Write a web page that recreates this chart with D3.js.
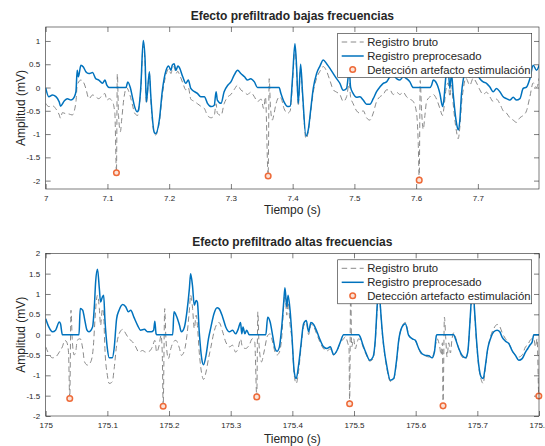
<!DOCTYPE html>
<html>
<head>
<meta charset="utf-8">
<script src="https://cdn.jsdelivr.net/npm/d3@7/dist/d3.min.js"></script>
<style>
  body { margin: 0; background: #fff; }
  svg { display: block; }
  text { font-family: "Liberation Sans", Arial, Helvetica, sans-serif; fill: #262626; }
</style>
</head>
<body>
<svg id="fig" width="545" height="446"></svg>
<script>
// ---- Low-frequency prefilter window (7.0 - 7.8 s) : [time s, amplitude mV]
const lowRaw = [
  [7.000,-0.34],[7.005,-0.41],[7.011,-0.39],[7.016,-0.45],[7.022,-0.59],[7.024,-0.66],[7.027,-0.54],
  [7.032,-0.56],[7.038,-0.57],[7.043,-0.59],[7.049,-0.31],[7.051,0.05],[7.057,0.16],[7.061,0.12],
  [7.065,-0.02],[7.070,-0.24],[7.076,-0.16],[7.081,-0.20],[7.086,-0.24],[7.092,-0.16],[7.096,-0.13],
  [7.099,-0.27],[7.103,-0.24],[7.108,-0.30],[7.112,-0.55],[7.1146,-1.83],[7.116,0.29],[7.118,-0.60],
  [7.121,-0.95],[7.123,-0.70],[7.127,-0.20],[7.131,0.00],[7.135,-0.10],[7.141,-0.40],[7.144,-0.55],
  [7.149,-0.60],[7.150,-0.55],[7.154,-0.05],[7.158,0.90],[7.161,0.50],[7.163,-0.35],[7.168,0.30],
  [7.170,-0.20],[7.176,-1.00],[7.178,-1.02],[7.184,-0.75],[7.189,-0.15],[7.195,0.28],[7.199,0.40],
  [7.203,0.30],[7.205,0.40],[7.208,0.45],[7.211,0.30],[7.214,0.35],[7.216,0.30],[7.222,0.10],
  [7.227,-0.05],[7.231,0.00],[7.235,-0.25],[7.241,-0.30],[7.246,-0.35],[7.251,-0.40],[7.257,-0.45],
  [7.262,-0.60],[7.268,-0.65],[7.273,-0.60],[7.276,-0.35],[7.278,-0.55],[7.284,-0.60],[7.289,-0.35],
  [7.295,-0.20],[7.300,-0.15],[7.305,-0.05],[7.311,0.05],[7.316,-0.05],[7.322,-0.10],[7.327,-0.15],
  [7.332,-0.10],[7.338,-0.20],[7.343,-0.30],[7.349,-0.25],[7.353,-0.45],[7.356,-0.20],[7.3603,-1.90],
  [7.362,0.19],[7.364,-0.40],[7.367,-0.70],[7.370,-0.55],[7.373,-0.35],[7.379,-0.20],[7.382,-0.25],
  [7.386,-0.45],[7.392,-0.55],[7.396,-0.50],[7.400,0.15],[7.4037,0.85],[7.4064,0.35],[7.4091,-0.40],
  [7.4129,0.40],[7.4161,-0.20],[7.4215,-1.10],[7.4253,-0.95],[7.4291,-0.55],[7.4334,-0.10],
  [7.4388,0.20],[7.4442,0.35],[7.4496,0.45],[7.4550,0.35],[7.4604,0.15],[7.4658,-0.05],[7.4712,-0.10],
  [7.4765,-0.15],[7.4819,-0.30],[7.4873,-0.20],[7.4917,0.10],[7.4938,-0.20],[7.4981,-0.35],
  [7.5035,-0.50],[7.5089,-0.55],[7.5143,-0.50],[7.5197,-0.65],[7.5251,-0.70],[7.5305,-0.55],
  [7.5359,-0.30],[7.5413,-0.20],[7.5467,-0.15],[7.5521,-0.05],[7.5575,-0.05],[7.5629,-0.15],
  [7.5683,-0.10],[7.5737,-0.15],[7.5791,-0.10],[7.5845,-0.20],[7.5899,-0.25],[7.5953,-0.30],
  [7.6007,-0.55],[7.6034,-1.20],[7.6050,-1.99],[7.6066,0.15],[7.6088,-0.50],[7.6115,-0.90],
  [7.6142,-0.60],[7.6169,-0.30],[7.6223,-0.20],[7.6277,-0.15],[7.6331,-0.25],[7.6385,-0.45],
  [7.6428,-0.60],[7.6449,-0.45],[7.6482,-0.05],[7.6519,0.10],[7.6546,-0.20],[7.6573,0.05],
  [7.6600,-0.35],[7.6654,-0.95],[7.6681,-1.10],[7.6708,-0.85],[7.6735,-0.35],[7.6762,-0.05],
  [7.6805,0.20],[7.6870,0.05],[7.6924,0.20],[7.6978,0.10],[7.7032,-0.05],[7.7086,-0.15],
  [7.7140,-0.10],[7.7194,-0.20],[7.7248,-0.30],[7.7302,-0.25],[7.7356,-0.35],[7.7410,-0.50],
  [7.7464,-0.55],[7.7518,-0.65],[7.7572,-0.70],[7.7626,-0.75],[7.7680,-0.65],[7.7734,-0.60],
  [7.7788,-0.50],[7.7842,-0.20],[7.7896,0.10],[7.7950,0.00],[7.7993,0.20]
];
const lowProc = [
  [7.000,-0.01],[7.005,-0.20],[7.011,-0.16],[7.016,-0.19],[7.022,-0.31],[7.024,-0.40],[7.030,-0.29],
  [7.035,-0.24],[7.041,-0.27],[7.046,-0.21],[7.049,-0.09],[7.051,0.37],[7.053,0.23],[7.057,0.48],
  [7.061,0.44],[7.065,0.34],[7.070,0.30],[7.076,0.32],[7.081,0.19],[7.086,0.16],[7.092,0.09],
  [7.096,0.16],[7.099,0.05],[7.103,0.00],[7.130,0.00],[7.133,0.12],[7.137,0.00],[7.141,-0.24],
  [7.144,-0.41],[7.148,-0.52],[7.150,-0.49],[7.154,0.00],[7.158,1.01],[7.161,0.59],[7.163,-0.31],
  [7.168,0.34],[7.170,-0.13],[7.176,-0.97],[7.178,-0.99],[7.184,-0.70],[7.189,-0.06],[7.195,0.37],
  [7.199,0.46],[7.203,0.37],[7.205,0.48],[7.208,0.51],[7.211,0.37],[7.214,0.46],[7.216,0.44],
  [7.222,0.23],[7.227,0.09],[7.231,0.16],[7.235,-0.02],[7.241,-0.09],[7.246,-0.13],[7.251,-0.20],
  [7.257,-0.20],[7.262,-0.34],[7.268,-0.41],[7.273,-0.38],[7.276,-0.09],[7.278,-0.27],[7.284,-0.34],
  [7.289,-0.09],[7.295,0.05],[7.300,0.12],[7.305,0.26],[7.311,0.37],[7.316,0.30],[7.322,0.23],
  [7.327,0.16],[7.332,0.19],[7.338,0.12],[7.343,0.00],[7.378,0.00],[7.381,-0.13],[7.386,-0.31],
  [7.392,-0.41],[7.396,-0.40],[7.3999,0.23],[7.4037,0.94],[7.4064,0.44],[7.4091,-0.34],[7.4129,0.50],
  [7.4161,-0.13],[7.4215,-1.04],[7.4253,-0.91],[7.4291,-0.49],[7.4334,-0.02],[7.4388,0.30],
  [7.4442,0.46],[7.4496,0.59],[7.4550,0.51],[7.4604,0.41],[7.4658,0.30],[7.4712,0.19],[7.4765,0.09],
  [7.4819,-0.06],[7.4873,-0.02],[7.4917,0.37],[7.4938,0.01],[7.4981,-0.13],[7.5035,-0.21],
  [7.5089,-0.20],[7.5143,-0.27],[7.5197,-0.36],[7.5251,-0.36],[7.5305,-0.24],[7.5359,-0.09],
  [7.5413,0.01],[7.5467,0.09],[7.5521,0.12],[7.5575,0.23],[7.5629,0.26],[7.5683,0.19],[7.5737,0.16],
  [7.5791,0.23],[7.5845,0.19],[7.5899,0.12],[7.5942,0.01],[7.5953,0.00],[7.6223,0.00],[7.6250,0.05],
  [7.6277,0.16],[7.6331,0.09],[7.6385,-0.13],[7.6428,-0.41],[7.6449,-0.27],[7.6482,0.23],
  [7.6519,0.37],[7.6546,-0.02],[7.6573,0.30],[7.6600,-0.13],[7.6654,-0.77],[7.6681,-0.91],
  [7.6708,-0.70],[7.6735,-0.13],[7.6762,0.16],[7.6805,0.37],[7.6870,0.23],[7.6924,0.37],
  [7.6978,0.30],[7.7032,0.19],[7.7086,0.12],[7.7140,0.09],[7.7194,0.01],[7.7248,-0.09],
  [7.7302,-0.02],[7.7356,-0.09],[7.7410,-0.20],[7.7464,-0.24],[7.7518,-0.27],[7.7572,-0.21],
  [7.7626,-0.27],[7.7680,-0.24],[7.7734,-0.02],[7.7788,0.01],[7.7842,0.19],[7.7896,0.48],
  [7.7950,0.37],[7.7993,0.48]
];
const lowMarks = [[7.1146,-1.83],[7.3603,-1.90],[7.6050,-1.99]];

// ---- High-frequency prefilter window (175.0 - 175.8 s)
const highRaw = [
  [175.000,-0.30],[175.005,-0.47],[175.011,-0.57],[175.016,-0.55],[175.022,-0.43],[175.027,-0.30],
  [175.031,-0.14],[175.034,-0.18],[175.037,-0.43],[175.039,-1.57],[175.041,0.60],[175.043,-0.10],
  [175.046,-0.50],[175.049,-0.39],[175.051,-0.14],[175.056,-0.10],[175.060,-0.34],[175.063,-0.67],
  [175.068,-0.75],[175.073,-0.67],[175.077,-0.34],[175.080,0.39],[175.082,0.80],[175.084,0.97],
  [175.087,0.64],[175.089,0.23],[175.092,0.64],[175.094,0.48],[175.096,-0.34],[175.100,-1.00],
  [175.103,-1.20],[175.108,-1.16],[175.111,-0.84],[175.115,-0.26],[175.119,0.02],[175.125,0.13],
  [175.130,0.02],[175.135,-0.10],[175.141,-0.18],[175.146,-0.30],[175.151,-0.43],[175.157,-0.39],
  [175.162,-0.43],[175.168,-0.41],[175.173,-0.30],[175.177,-0.14],[175.180,-0.43],[175.184,-0.26],
  [175.187,-0.02],[175.189,-0.43],[175.1905,-1.76],[175.193,0.64],[175.195,-0.10],[175.199,-0.59],
  [175.203,-0.34],[175.207,-0.18],[175.211,-0.14],[175.217,-0.34],[175.220,-0.51],[175.225,-0.39],
  [175.229,-0.02],[175.233,0.60],[175.235,0.97],[175.238,0.68],[175.241,0.15],[175.244,0.48],
  [175.246,0.23],[175.249,-0.43],[175.253,-0.96],[175.256,-1.10],[175.260,-0.92],[175.264,-0.59],
  [175.268,-0.30],[175.273,0.07],[175.278,0.27],[175.281,0.30],[175.287,0.07],[175.292,-0.18],
  [175.298,-0.30],[175.303,-0.26],[175.308,-0.43],[175.312,-0.34],[175.316,-0.11],[175.319,-0.30],
  [175.324,-0.34],[175.330,-0.26],[175.335,-0.10],[175.339,-0.18],[175.3423,-1.53],[175.344,0.56],
  [175.346,-0.26],[175.350,-0.67],[175.354,-0.43],[175.360,-0.02],[175.364,0.02],[175.368,-0.18],
  [175.372,-0.43],[175.375,-0.50],[175.379,-0.43],[175.383,-0.02],[175.386,0.72],[175.388,1.00],
  [175.391,0.48],[175.393,0.80],[175.3966,0.20],[175.3993,-0.10],[175.4031,-1.00],[175.4063,-1.20],
  [175.4101,-0.90],[175.4139,-0.35],[175.4182,0.20],[175.4226,0.30],[175.4264,0.00],[175.4301,0.25],
  [175.4345,0.20],[175.4399,0.00],[175.4453,-0.20],[175.4507,-0.35],[175.4561,-0.40],[175.4615,-0.35],
  [175.4669,-0.50],[175.4724,-0.40],[175.4778,-0.20],[175.4832,-0.10],[175.4859,-0.05],[175.4897,-0.20],
  [175.4919,-0.35],[175.4929,-1.70],[175.4946,1.20],[175.4962,-0.30],[175.4994,-0.10],[175.5021,-0.35],
  [175.5048,-0.20],[175.5075,-0.10],[175.5113,-0.15],[175.5146,-0.30],[175.5200,-0.50],[175.5254,-0.65],
  [175.5308,-0.60],[175.5346,-0.15],[175.5373,0.55],[175.5400,1.20],[175.5427,0.70],[175.5454,0.10],
  [175.5481,-0.30],[175.5535,-0.85],[175.5589,-1.15],[175.5643,-1.10],[175.5687,-0.70],[175.5725,-0.15],
  [175.5779,0.20],[175.5833,0.30],[175.5887,0.00],[175.5941,-0.10],[175.5995,-0.15],[175.6049,-0.35],
  [175.6103,-0.50],[175.6158,-0.52],[175.6212,-0.55],[175.6266,-0.55],[175.6304,-0.40],[175.6347,-0.10],
  [175.6390,-0.30],[175.6412,-0.50],[175.6434,-0.20],[175.6444,-1.75],[175.6466,0.43],[175.6488,-0.10],
  [175.6509,-0.55],[175.6536,-0.20],[175.6563,-0.45],[175.6590,-0.10],[175.6617,0.05],[175.6644,-0.05],
  [175.6699,-0.35],[175.6753,-0.55],[175.6807,-0.60],[175.6845,-0.45],[175.6877,0.20],[175.6904,0.85],
  [175.6931,1.15],[175.6953,0.60],[175.6985,-0.15],[175.7023,-0.80],[175.7061,-1.10],[175.7094,-1.20],
  [175.7132,-0.80],[175.7169,-0.35],[175.7213,-0.05],[175.7267,0.15],[175.7321,0.25],[175.7364,0.20],
  [175.7402,0.05],[175.7456,-0.10],[175.7510,-0.20],[175.7564,-0.40],[175.7618,-0.50],[175.7672,-0.55],
  [175.7727,-0.50],[175.7781,-0.30],[175.7819,-0.25],[175.7851,-0.15],[175.7889,-0.10],[175.7916,-0.10],
  [175.7943,-0.30],[175.7970,-0.10],[175.7997,-1.51],[175.8013,0.00]
];
const highProc = [
  [175.000,0.39],[175.005,0.19],[175.011,0.07],[175.016,0.11],[175.022,0.31],[175.024,0.27],
  [175.027,0.00],[175.054,0.00],[175.056,0.64],[175.060,0.60],[175.063,0.39],[175.067,0.11],
  [175.070,0.07],[175.076,0.19],[175.079,0.72],[175.081,1.30],[175.084,1.61],[175.087,1.13],
  [175.089,0.80],[175.092,0.93],[175.094,0.97],[175.096,0.39],[175.100,-0.34],[175.103,-0.57],
  [175.108,-0.57],[175.111,-0.34],[175.115,0.39],[175.119,0.60],[175.125,0.74],[175.130,0.68],
  [175.134,0.56],[175.138,0.60],[175.143,0.43],[175.149,0.23],[175.154,0.11],[175.160,0.13],
  [175.165,0.07],[175.171,0.07],[175.175,0.11],[175.177,0.33],[175.179,0.02],[175.180,0.00],
  [175.206,0.00],[175.208,0.56],[175.212,0.46],[175.217,0.23],[175.220,0.07],[175.225,0.19],
  [175.229,0.56],[175.233,1.13],[175.235,1.50],[175.238,1.21],[175.241,0.72],[175.244,0.84],
  [175.246,0.80],[175.249,0.07],[175.253,-0.59],[175.256,-0.74],[175.260,-0.51],[175.264,-0.10],
  [175.268,0.19],[175.273,0.52],[175.278,0.66],[175.281,0.64],[175.287,0.43],[175.292,0.19],
  [175.298,0.07],[175.303,0.11],[175.308,0.02],[175.312,0.13],[175.316,0.30],[175.318,0.02],
  [175.320,0.19],[175.323,0.02],[175.326,0.11],[175.330,0.00],[175.357,0.00],[175.360,0.43],
  [175.364,0.31],[175.368,-0.02],[175.372,-0.34],[175.375,-0.41],[175.379,-0.30],[175.383,0.23],
  [175.386,0.80],[175.388,1.15],[175.391,0.68],[175.393,0.97],[175.3966,0.55],[175.3993,-0.02],
  [175.4031,-0.92],[175.4063,-1.08],[175.4101,-0.75],[175.4139,-0.26],[175.4182,0.27],[175.4226,0.35],
  [175.4264,0.07],[175.4301,0.30],[175.4345,0.25],[175.4399,0.07],[175.4453,-0.14],[175.4507,-0.30],
  [175.4561,-0.34],[175.4615,-0.30],[175.4669,-0.49],[175.4724,-0.39],[175.4778,-0.18],[175.4832,0.00],
  [175.5075,0.00],[175.5102,-0.06],[175.5146,-0.26],[175.5200,-0.47],[175.5254,-0.63],[175.5308,-0.55],
  [175.5346,-0.10],[175.5373,0.64],[175.5400,1.21],[175.5427,0.70],[175.5454,0.15],[175.5481,-0.26],
  [175.5535,-0.80],[175.5589,-1.12],[175.5643,-1.08],[175.5687,-0.67],[175.5725,-0.14],[175.5779,0.19],
  [175.5833,0.27],[175.5887,-0.02],[175.5941,-0.10],[175.5995,-0.14],[175.6049,-0.34],[175.6103,-0.47],
  [175.6158,-0.51],[175.6212,-0.52],[175.6266,-0.57],[175.6304,-0.43],[175.6336,-0.02],[175.6347,0.00],
  [175.6617,0.00],[175.6644,-0.10],[175.6699,-0.34],[175.6753,-0.51],[175.6807,-0.57],[175.6845,-0.43],
  [175.6877,0.23],[175.6904,0.89],[175.6931,1.21],[175.6953,0.64],[175.6985,-0.10],[175.7023,-0.75],
  [175.7061,-1.04],[175.7094,-1.08],[175.7132,-0.75],[175.7169,-0.34],[175.7213,-0.10],[175.7267,0.07],
  [175.7321,0.11],[175.7364,0.07],[175.7402,-0.06],[175.7456,-0.16],[175.7510,-0.22],[175.7564,-0.39],
  [175.7618,-0.51],[175.7672,-0.63],[175.7727,-0.59],[175.7781,-0.43],[175.7819,-0.34],[175.7851,-0.26],
  [175.7889,-0.18],[175.7916,0.00],[175.8013,0.00]
];
const highMarks = [[175.0390,-1.57],[175.1905,-1.76],[175.3423,-1.53],[175.4929,-1.70],[175.6444,-1.75],[175.7997,-1.51]];

// ---- Axis ticks and text
const lowXTicks = [7, 7.1, 7.2, 7.3, 7.4, 7.5, 7.6, 7.7];
const highXTicks = [175, 175.1, 175.2, 175.3, 175.4, 175.5, 175.6, 175.7, 175.8];
const lowYTicks = [-2, -1.5, -1, -0.5, 0, 0.5, 1];
const highYTicks = [-2, -1.5, -1, -0.5, 0, 0.5, 1, 1.5, 2];
const titles = ["Efecto prefiltrado bajas frecuencias", "Efecto prefiltrado altas frecuencias"];
const legendLabels = ["Registro bruto", "Registro preprocesado", "Detección artefacto estimulación"];
const xLabel = "Tiempo (s)";
const yLabel = "Amplitud (mV)";

const COL_RAW = "#8a8a8a", COL_PROC = "#0072BD", COL_MARK = "#EE6A38", COL_AX = "#262626";

const svg = d3.select("#fig");

const panels = [
  { title: titles[0], raw: lowRaw, proc: lowProc, marks: lowMarks,
    xDom: [7, 7.799], yDom: [-2.18, 1.3], xTicks: lowXTicks, yTicks: lowYTicks,
    top: 27, bottom: 189, xLabelGap: 25.3 },
  { title: titles[1], raw: highRaw, proc: highProc, marks: highMarks,
    xDom: [175, 175.8], yDom: [-2, 2], xTicks: highXTicks, yTicks: highYTicks,
    top: 253.3, bottom: 416, xLabelGap: 27.3 }
];

const left = 45.7, right = 539;
const tickLen = 5;

panels.forEach((p, i) => {
  const x = d3.scaleLinear().domain(p.xDom).range([left, right]);
  const y = d3.scaleLinear().domain(p.yDom).range([p.bottom, p.top]);
  const g = svg.append("g");

  const clipId = "clip" + i;
  svg.append("clipPath").attr("id", clipId)
    .append("rect").attr("x", left).attr("y", p.top)
    .attr("width", right - left).attr("height", p.bottom - p.top);

  // axes with inward ticks on all four sides
  const fmt = d => String(d);
  const axB = d3.axisBottom(x).tickValues(p.xTicks).tickSize(-tickLen).tickPadding(6).tickFormat(fmt);
  const axT = d3.axisTop(x).tickValues(p.xTicks).tickSize(-tickLen).tickFormat("");
  const axL = d3.axisLeft(y).tickValues(p.yTicks).tickSize(-tickLen).tickPadding(5.5).tickFormat(fmt);
  const axR = d3.axisRight(y).tickValues(p.yTicks).tickSize(-tickLen).tickFormat("");

  const style = sel => {
    sel.select(".domain").remove();
    sel.selectAll("line").attr("stroke", COL_AX).attr("stroke-width", 0.6);
    sel.selectAll("text").attr("font-size", 8).attr("fill", COL_AX)
      .style("font-family", '"Liberation Sans", Arial, sans-serif');
  };
  g.append("g").attr("transform", `translate(0,${p.bottom})`).call(axB).call(style);
  g.append("g").attr("transform", `translate(0,${p.top})`).call(axT).call(style);
  g.append("g").attr("transform", `translate(${left},0)`).call(axL).call(style);
  g.append("g").attr("transform", `translate(${right},0)`).call(axR).call(style);

  // signals
  const line = d3.line().x(d => x(d[0])).y(d => y(d[1])).curve(d3.curveMonotoneX);
  const plot = g.append("g").attr("clip-path", `url(#${clipId})`);
  plot.append("path").datum(p.raw).attr("d", line)
    .attr("fill", "none").attr("stroke", COL_RAW).attr("stroke-width", 1)
    .attr("stroke-dasharray", "5.5,3.5");
  plot.append("path").datum(p.proc).attr("d", line)
    .attr("fill", "none").attr("stroke", COL_PROC).attr("stroke-width", 1.5)
    .attr("stroke-linejoin", "round");

  // stimulation artefact detections
  g.append("g").selectAll("circle").data(p.marks).join("circle")
    .attr("cx", d => x(d[0])).attr("cy", d => y(d[1])).attr("r", 2.8)
    .attr("fill", "#fbe3d8").attr("stroke", COL_MARK).attr("stroke-width", 1.5);

  // box
  g.append("rect").attr("x", left).attr("y", p.top)
    .attr("width", right - left).attr("height", p.bottom - p.top)
    .attr("fill", "none").attr("stroke", COL_AX).attr("stroke-width", 0.6);

  // title and axis labels
  g.append("text").attr("x", (left + right) / 2).attr("y", p.top - 7)
    .attr("text-anchor", "middle").attr("font-size", 12).attr("font-weight", "bold")
    .attr("fill", "#000").text(p.title);
  g.append("text").attr("x", (left + right) / 2).attr("y", p.bottom + p.xLabelGap)
    .attr("text-anchor", "middle").attr("font-size", 12).text(xLabel);
  g.append("text").attr("transform", `translate(24.5,${(p.top + p.bottom) / 2}) rotate(-90)`)
    .attr("text-anchor", "middle").attr("font-size", 12).text(yLabel);

  // legend
  const lx = 337.7, ly = p.top + 6.5, lw = 194, lh = 44;
  const lg = g.append("g");
  lg.append("rect").attr("x", lx).attr("y", ly).attr("width", lw).attr("height", lh)
    .attr("fill", "#fff").attr("stroke", COL_AX).attr("stroke-width", 0.6);
  const rows = [ly + 8.5, ly + 22.5, ly + 36];
  lg.append("line").attr("x1", lx + 4).attr("x2", lx + 26).attr("y1", rows[0]).attr("y2", rows[0])
    .attr("stroke", COL_RAW).attr("stroke-width", 1).attr("stroke-dasharray", "5.5,3.5");
  lg.append("line").attr("x1", lx + 4).attr("x2", lx + 26).attr("y1", rows[1]).attr("y2", rows[1])
    .attr("stroke", COL_PROC).attr("stroke-width", 1.5);
  lg.append("circle").attr("cx", lx + 15).attr("cy", rows[2]).attr("r", 2.8)
    .attr("fill", "#fbe3d8").attr("stroke", COL_MARK).attr("stroke-width", 1.5);
  legendLabels.forEach((t, k) => {
    lg.append("text").attr("x", lx + 29.5).attr("y", rows[k] + 4)
      .attr("font-size", 11.3).attr("fill", "#000").text(t);
  });
});
</script>
</body>
</html>
